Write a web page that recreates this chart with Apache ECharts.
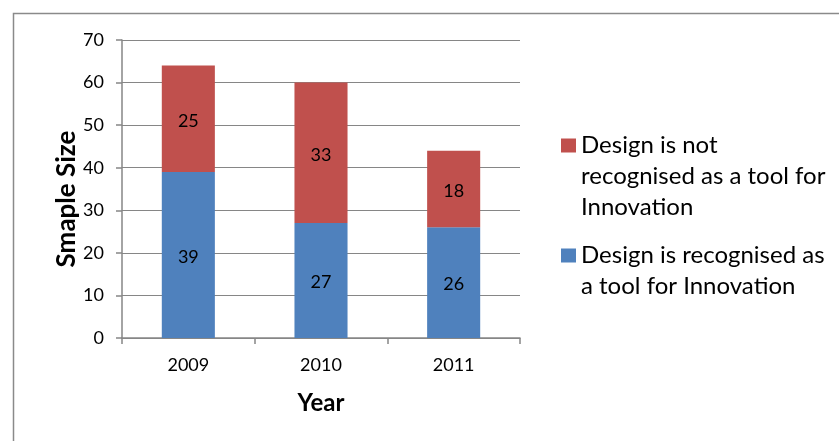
<!DOCTYPE html>
<html><head><meta charset="utf-8">
<script src="https://cdn.jsdelivr.net/npm/echarts@6/dist/echarts.min.js"></script>
<style>html,body{margin:0;padding:0;background:#fff}#c{width:839px;height:441px}</style>
</head><body><div id="c"></div>
<script>
const categories = ['2009', '2010', '2011'];
const recognised = [39, 27, 26];
const notRecognised = [25, 33, 18];
const nameNot = 'Design is not recognised as a tool for Innovation';
const nameRec = 'Design is recognised as a tool for Innovation';
const yTicks = {min: 0, max: 70, interval: 10};

const FONT = 'Lato';
const chart = echarts.init(document.getElementById('c'), null, {renderer: 'canvas'});
const legendText = {
  fontFamily: FONT, fontSize: 24, color: '#000', lineHeight: 31
};
chart.setOption({
  animation: false,
  backgroundColor: '#fff',
  graphic: [{
    type: 'rect', left: 11, top: 11, silent: true,
    shape: {x: 0, y: 0, width: 900, height: 600},
    style: {fill: 'none', stroke: '#8a8a8a', lineWidth: 1.5}
  }],
  grid: {left: 122, right: 319, top: 40, bottom: 103, containLabel: false},
  legend: [{
    orient: 'vertical', left: 561, top: 68, padding: 0,
    itemWidth: 15, itemHeight: 14, icon: 'rect',
    data: [nameNot],
    formatter: () => '\n\nDesign is not\nrecognised as a tool for\nInnovation',
    textStyle: legendText
  }, {
    orient: 'vertical', left: 561, top: 209, padding: 0,
    itemWidth: 15, itemHeight: 14, icon: 'rect',
    data: [nameRec],
    formatter: () => '\nDesign is recognised as\na tool for Innovation',
    textStyle: legendText
  }],
  xAxis: {
    type: 'category', data: categories,
    name: 'Year', nameLocation: 'middle', nameGap: 53,
    nameTextStyle: {fontFamily: FONT, fontSize: 24, fontWeight: 'bold', color: '#000'},
    axisLine: {lineStyle: {color: '#868686', width: 1.5}},
    axisTick: {show: true, length: 6, alignWithLabel: false, lineStyle: {color: '#868686', width: 1.5}},
    axisLabel: {fontFamily: FONT, fontSize: 18, color: '#000', margin: 18}
  },
  yAxis: {
    type: 'value', min: yTicks.min, max: yTicks.max, interval: yTicks.interval,
    name: 'Smaple Size', nameLocation: 'middle', nameGap: 18, nameRotate: 90,
    nameTextStyle: {fontFamily: FONT, fontSize: 26, fontWeight: 'bold', color: '#000', padding: [0, 20, 0, 0]},
    axisLine: {show: true, lineStyle: {color: '#868686', width: 1.5}},
    axisTick: {show: true, length: 6, lineStyle: {color: '#868686', width: 1.5}},
    splitLine: {show: true, lineStyle: {color: '#868686', width: 1.2}},
    axisLabel: {fontFamily: FONT, fontSize: 18, color: '#000', margin: 18}
  },
  series: [{
    name: nameRec, type: 'bar', stack: 'a', data: recognised, barWidth: '40%',
    itemStyle: {color: '#4F81BD'},
    label: {show: true, position: 'inside', offset: [0, 2], fontFamily: FONT, fontSize: 18, color: '#000'}
  }, {
    name: nameNot, type: 'bar', stack: 'a', data: notRecognised, barWidth: '40%',
    itemStyle: {color: '#C0504D'},
    label: {show: true, position: 'inside', offset: [0, 2], fontFamily: FONT, fontSize: 18, color: '#000'}
  }]
});
</script></body></html>
